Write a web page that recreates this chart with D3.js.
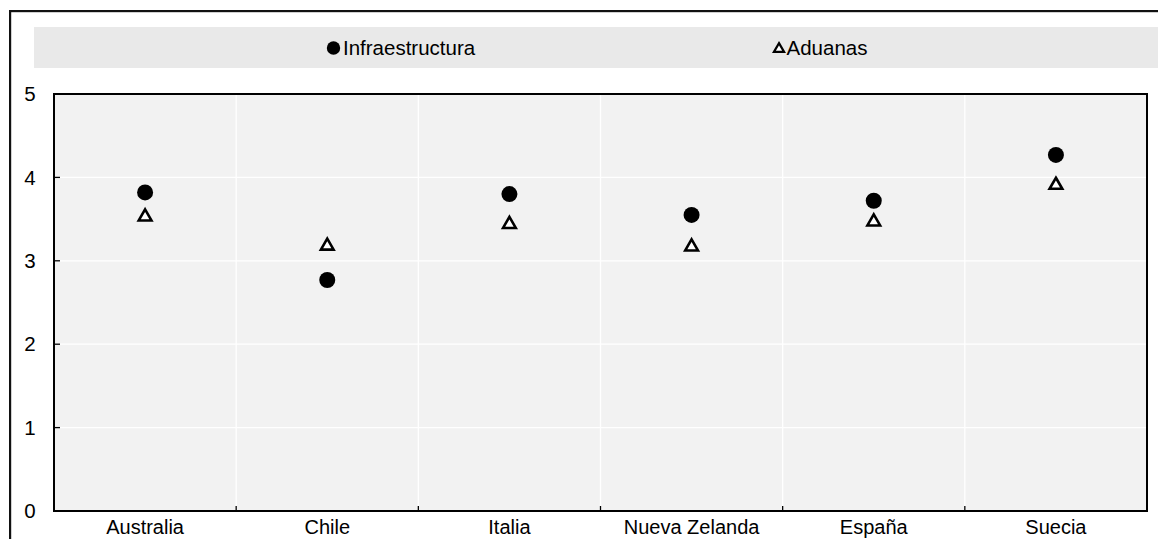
<!DOCTYPE html>
<html><head><meta charset="utf-8">
<script src="https://cdn.jsdelivr.net/npm/d3@7"></script>
<style>body{margin:0;background:#fff}svg{display:block;font-family:"Liberation Sans",Arial,sans-serif}</style>
</head><body>
<svg id="c" width="1158" height="539"></svg>
<script>
const categories = ["Australia","Chile","Italia","Nueva Zelanda","España","Suecia"];
const infraestructura = [3.82,2.77,3.80,3.55,3.72,4.27];
const aduanas = [3.54,3.19,3.45,3.18,3.48,3.92];
const yTicks = [0,1,2,3,4,5];
const seriesNames = ["Infraestructura","Aduanas"];

const svg = d3.select("#c");
const m={l:54,t:94,r:1147,b:511};
const FS=20.5;

// outer frame (top and left edges visible)
svg.append("rect").attr("x",9).attr("y",10).attr("width",1149).attr("height",2.2).attr("fill","#111");
svg.append("rect").attr("x",9).attr("y",10).attr("width",2.2).attr("height",529).attr("fill","#111");
// legend band
svg.append("rect").attr("x",34).attr("y",27).attr("width",1130).attr("height",41).attr("fill","#e9e9e9");

const x = d3.scaleBand().domain(categories).range([m.l,m.r]).padding(0);
const y = d3.scaleLinear().domain([0,5]).range([m.b,m.t]);

svg.append("rect").attr("x",m.l).attr("y",m.t).attr("width",m.r-m.l).attr("height",m.b-m.t).attr("fill","#f2f2f2");
svg.append("g").selectAll("line").data(yTicks.slice(1,-1)).join("line")
  .attr("x1",m.l).attr("x2",m.r).attr("y1",d=>y(d)).attr("y2",d=>y(d))
  .attr("stroke","#fff").attr("stroke-width",1.3);
const bounds = categories.slice(1).map(c=>x(c));
svg.append("g").selectAll("line").data(bounds).join("line")
  .attr("x1",d=>d).attr("x2",d=>d).attr("y1",m.t).attr("y2",m.b)
  .attr("stroke","#fff").attr("stroke-width",1.3);
svg.append("g").selectAll("line").data(bounds).join("line")
  .attr("x1",d=>d).attr("x2",d=>d).attr("y1",m.b).attr("y2",m.b-5)
  .attr("stroke","#000").attr("stroke-width",1.3);
svg.append("g").selectAll("line").data(yTicks).join("line")
  .attr("x1",m.l).attr("x2",m.l+6).attr("y1",d=>y(d)).attr("y2",d=>y(d))
  .attr("stroke","#000").attr("stroke-width",1.3);
svg.append("rect").attr("x",m.l).attr("y",m.t).attr("width",m.r-m.l).attr("height",m.b-m.t)
  .attr("fill","none").attr("stroke","#000").attr("stroke-width",2);

svg.append("g").selectAll("text").data(yTicks).join("text")
  .attr("x",30).attr("y",d=>y(d)).attr("dy","0.35em").attr("text-anchor","middle")
  .attr("font-size",FS).text(d=>d);
svg.append("g").selectAll("text").data(categories).join("text")
  .attr("x",d=>x(d)+x.bandwidth()/2).attr("y",534).attr("text-anchor","middle")
  .attr("font-size",20).text(d=>d);

const tri = d3.symbol().type(d3.symbolTriangle);
svg.append("g").selectAll("path").data(aduanas).join("path")
  .attr("d",tri.size(70)())
  .attr("transform",(d,i)=>`translate(${x(categories[i])+x.bandwidth()/2},${y(d)+1})`)
  .attr("fill","#fff").attr("stroke","#000").attr("stroke-width",2.6);
svg.append("g").selectAll("circle").data(infraestructura).join("circle")
  .attr("cx",(d,i)=>x(categories[i])+x.bandwidth()/2).attr("cy",d=>y(d)).attr("r",8).attr("fill","#000");

// legend
svg.append("circle").attr("cx",333.5).attr("cy",48).attr("r",6.7).attr("fill","#000");
svg.append("text").attr("x",343).attr("y",54.5).attr("font-size",FS).text(seriesNames[0]);
svg.append("path").attr("d",d3.symbol().type(d3.symbolTriangle).size(45)())
  .attr("transform","translate(779,49)").attr("fill","#fff").attr("stroke","#000").attr("stroke-width",2.2);
svg.append("text").attr("x",786.5).attr("y",54.5).attr("font-size",FS).text(seriesNames[1]);
</script>
</body></html>
